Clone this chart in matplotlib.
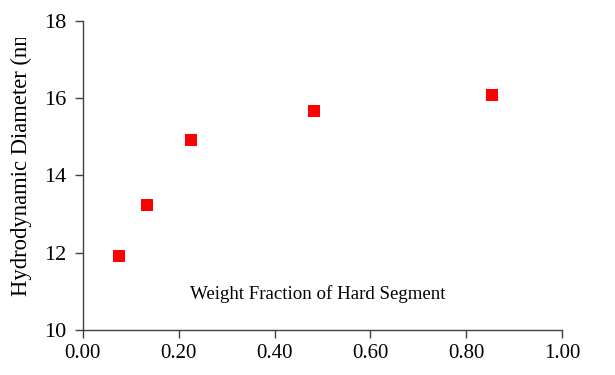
import matplotlib
matplotlib.use("Agg")
import matplotlib.pyplot as plt
from matplotlib.transforms import Bbox, TransformedBbox

plt.rcParams['font.family'] = ['Liberation Serif', 'DejaVu Serif']

# weight fraction of hard segment vs hydrodynamic diameter
weight_frac = [0.076, 0.133, 0.226, 0.483, 0.854]
diameter = [11.91, 13.23, 14.91, 15.66, 16.07]

x_ticks = [0.0, 0.2, 0.4, 0.6, 0.8, 1.0]
y_ticks = [10, 12, 14, 16, 18]

fig = plt.figure(figsize=(6.15, 3.75), dpi=100)
ax = fig.add_axes([0.1345, 0.12, 0.7798, 0.8248])

ax.plot(weight_frac, diameter, linestyle='none', marker='s', markersize=9.2,
        color='#ff0000', markeredgewidth=0)

ax.set_xlim(0, 1)
ax.set_ylim(10, 18)
ax.set_xticks(x_ticks)
ax.set_xticklabels(["%.2f" % v for v in x_ticks])
ax.set_yticks(y_ticks)

for s in ['top', 'right']:
    ax.spines[s].set_visible(False)
for s in ['left', 'bottom']:
    ax.spines[s].set_color('#404040')
    ax.spines[s].set_linewidth(1.0)
ax.tick_params(direction='out', length=6, width=1.0, color='#404040')
ax.tick_params(axis='x', labelsize=15, pad=4)
ax.tick_params(axis='y', labelsize=16, pad=6)

ax.text(0.49, 10.93, "Weight Fraction of Hard Segment", fontsize=13.6,
        ha='center', va='center')

# y label is cut off at the top in the original
ylab = fig.text(0.034, 0.21, "Hydrodynamic Diameter (nm)", rotation=90,
                fontsize=16.3, ha='center', va='bottom')
ylab.set_clip_box(TransformedBbox(Bbox([[0, 0], [1, 0.899]]), fig.transFigure))
ylab.set_clip_on(True)

fig.savefig("out.png", dpi=100)
